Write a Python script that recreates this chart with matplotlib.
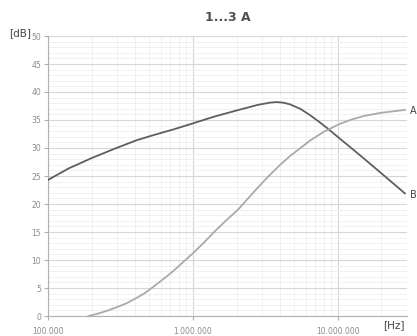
import numpy as np
import matplotlib
matplotlib.use('Agg')
import matplotlib.pyplot as plt
from matplotlib.ticker import FixedLocator, LogLocator, NullFormatter, MultipleLocator

# curve data (frequency in Hz, attenuation in dB)
freq_a = [1.9e5, 2.2e5, 2.6e5, 3.0e5, 3.5e5, 4.0e5, 4.6e5, 5.2e5, 5.9e5, 6.7e5,
          7.6e5, 8.7e5, 1.0e6, 1.2e6, 1.4e6, 1.7e6, 2.05e6, 2.6e6, 3.22e6, 4.0e6,
          4.7e6, 5.47e6, 6.4e6, 8.0e6, 1.03e7, 1.25e7, 1.5e7, 2.0e7, 2.5e7, 2.9e7]
db_a = [0.0, 0.4, 1.0, 1.6, 2.3, 3.1, 4.0, 5.0, 6.1, 7.2,
        8.4, 9.8, 11.2, 13.2, 15.0, 17.1, 19.0, 22.0, 24.6, 27.0,
        28.6, 29.9, 31.3, 32.9, 34.3, 35.1, 35.7, 36.3, 36.6, 36.8]

freq_b = [1.0e5, 1.4e5, 2.0e5, 2.9e5, 4.1e5, 5.5e5, 7.3e5, 1.0e6, 1.4e6, 2.0e6,
          2.8e6, 3.4e6, 3.77e6, 4.2e6, 4.67e6, 5.5e6, 6.4e6, 7.4e6, 8.58e6, 1.03e7,
          1.25e7, 1.5e7, 2.1e7, 2.9e7]
db_b = [24.3, 26.4, 28.2, 29.9, 31.4, 32.4, 33.3, 34.4, 35.6, 36.7,
        37.7, 38.1, 38.2, 38.1, 37.8, 37.0, 35.9, 34.7, 33.4, 31.7,
        29.9, 28.2, 25.0, 21.9]

xtick_vals = [1e5, 1e6, 1e7]
xtick_labels = ['100.000', '1.000.000', '10.000.000']

grey_txt = '#8a8a8a'

fig = plt.figure(figsize=(4.17, 3.36), dpi=100)
ax = fig.add_axes([48 / 417, 20 / 336, 359 / 417, 280 / 336])

ax.set_xscale('log')
ax.set_xlim(1e5, 3e7)
ax.set_ylim(0, 50)

ax.plot(freq_b, db_b, color='#5e5e5e', lw=1.3, zorder=3)
ax.plot(freq_a, db_a, color='#aaaaaa', lw=1.3, zorder=3)

ax.xaxis.set_major_locator(FixedLocator(xtick_vals))
ax.set_xticklabels(xtick_labels)
ax.xaxis.set_minor_locator(LogLocator(base=10, subs=np.arange(2, 10)))
ax.xaxis.set_minor_formatter(NullFormatter())
ax.yaxis.set_major_locator(MultipleLocator(5))
ax.yaxis.set_minor_locator(MultipleLocator(1))

ax.grid(which='major', color='#d6d6d6', lw=0.8)
ax.grid(which='minor', color='#efefef', lw=0.6)
ax.set_axisbelow(True)

for s in ['top', 'right']:
    ax.spines[s].set_visible(False)
for s in ['left', 'bottom']:
    ax.spines[s].set_color('#b0b0b0')
    ax.spines[s].set_linewidth(0.8)

ax.tick_params(which='major', length=3, color='#b0b0b0', labelsize=5.5, labelcolor=grey_txt, pad=2)
ax.tick_params(which='minor', length=0)
ax.tick_params(axis='x', pad=5)

ax.set_title('1...3 A', fontsize=9, fontweight='bold', color='#505050', pad=11)

fig.text(9 / 417, 1 - 33 / 336, '[dB]', fontsize=7.5, color='#444444', va='center', ha='left')
fig.text(383 / 417, 1 - 325 / 336, '[Hz]', fontsize=7.5, color='#444444', va='center', ha='left')
fig.text(410 / 417, 1 - 111 / 336, 'A', fontsize=7, color='#444444', va='center', ha='left')
fig.text(410 / 417, 1 - 195 / 336, 'B', fontsize=7, color='#444444', va='center', ha='left')

fig.savefig('out.png', dpi=100, facecolor='white')
